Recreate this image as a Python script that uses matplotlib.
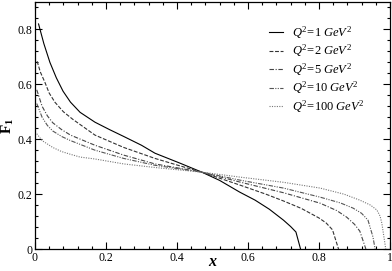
import matplotlib
matplotlib.use("Agg")
import matplotlib.pyplot as plt
from matplotlib.ticker import MultipleLocator

plt.rcParams['font.family'] = 'Liberation Serif'
plt.rcParams['mathtext.fontset'] = 'custom'
plt.rcParams['mathtext.rm'] = 'Liberation Serif'
plt.rcParams['mathtext.it'] = 'Liberation Serif:italic'
plt.rcParams['mathtext.bf'] = 'Liberation Serif:bold'

# F1(x), one curve per Q^2
x_q1 = [0.01, 0.025, 0.042, 0.06, 0.079, 0.1, 0.127, 0.169, 0.21, 0.25, 0.3, 0.338, 0.408, 0.47, 0.52, 0.577, 0.62, 0.66, 0.7, 0.72, 0.735, 0.748]
f_q1 = [0.82, 0.748, 0.68, 0.624, 0.575, 0.535, 0.498, 0.462, 0.435, 0.41, 0.378, 0.349, 0.313, 0.28, 0.25, 0.207, 0.178, 0.145, 0.105, 0.082, 0.062, 0.0]

x_q2 = [0.006, 0.015, 0.028, 0.04, 0.056, 0.08, 0.107, 0.169, 0.25, 0.338, 0.408, 0.47, 0.577, 0.65, 0.7, 0.75, 0.8, 0.82, 0.838, 0.855]
f_q2 = [0.684, 0.645, 0.607, 0.568, 0.535, 0.5, 0.472, 0.415, 0.37, 0.33, 0.303, 0.28, 0.233, 0.2, 0.175, 0.148, 0.113, 0.095, 0.07, 0.0]

x_q5 = [0.005, 0.02, 0.035, 0.05, 0.075, 0.1, 0.169, 0.25, 0.338, 0.47, 0.577, 0.7, 0.803, 0.85, 0.878, 0.9, 0.915, 0.932]
f_q5 = [0.58, 0.52, 0.485, 0.46, 0.435, 0.415, 0.378, 0.342, 0.31, 0.28, 0.244, 0.205, 0.167, 0.14, 0.116, 0.09, 0.065, 0.0]

x_q10 = [0.005, 0.02, 0.035, 0.05, 0.075, 0.1, 0.169, 0.25, 0.338, 0.47, 0.577, 0.7, 0.803, 0.86, 0.896, 0.92, 0.938, 0.952, 0.958]
f_q10 = [0.53, 0.48, 0.45, 0.43, 0.41, 0.395, 0.36, 0.33, 0.305, 0.28, 0.251, 0.222, 0.189, 0.168, 0.149, 0.13, 0.105, 0.044, 0.0]

x_q100 = [0.005, 0.02, 0.05, 0.075, 0.1, 0.127, 0.169, 0.25, 0.338, 0.47, 0.577, 0.7, 0.803, 0.87, 0.915, 0.945, 0.963, 0.972, 0.977, 0.988]
f_q100 = [0.42, 0.395, 0.37, 0.355, 0.345, 0.335, 0.328, 0.31, 0.297, 0.28, 0.262, 0.243, 0.222, 0.2, 0.178, 0.16, 0.142, 0.12, 0.094, 0.0]

labels = [r'$\mathit{Q^2\!=\!1\ GeV^2}$', r'$\mathit{Q^2\!=\!2\ GeV^2}$',
          r'$\mathit{Q^2\!=\!5\ GeV^2}$', r'$\mathit{Q^2\!=\!10\ GeV^2}$',
          r'$\mathit{Q^2\!=\!100\ GeV^2}$']

fig = plt.figure(figsize=(3.92, 2.71), dpi=100)
ax = fig.add_axes([35/392, 22/271, 355/392, 247/271])

ax.plot(x_q1, f_q1, color='black', lw=0.8, linestyle='-', label=labels[0])
ax.plot(x_q2, f_q2, color='#333333', lw=0.8, linestyle=(0, (3.5, 1.5)), label=labels[1])
ax.plot(x_q5, f_q5, color='#444444', lw=0.8, linestyle=(0, (4, 1.5, 1, 1.5)), label=labels[2])
ax.plot(x_q10, f_q10, color='#555555', lw=0.8, linestyle=(0, (4, 1.2, 1, 1.2, 1, 1.2)), label=labels[3])
ax.plot(x_q100, f_q100, color='#777777', lw=0.8, linestyle=(0, (1, 1.2)), label=labels[4])

ax.set_xlim(0, 1)
ax.set_ylim(0, 0.9)
ax.xaxis.set_minor_locator(MultipleLocator(0.04))
ax.yaxis.set_minor_locator(MultipleLocator(0.04))
ax.set_xticks([0, 0.2, 0.4, 0.6, 0.8, 1])
ax.set_xticklabels(['0', '0.2', '0.4', '0.6', '0.8', '1'])
ax.set_yticks([0, 0.2, 0.4, 0.6, 0.8])
ax.set_yticklabels(['0', '0.2', '0.4', '0.6', '0.8'])
ax.tick_params(which='both', direction='in', top=True, right=True, labelsize=8.5, width=0.8)
ax.tick_params(which='major', length=5, pad=2)
ax.tick_params(which='minor', length=2.5)
for s in ax.spines.values():
    s.set_linewidth(0.9)

ax.set_xlabel('x', fontsize=11.5, fontweight='bold', fontstyle='italic', va='bottom')
ax.xaxis.set_label_coords(0.5, -0.085)
ax.set_ylabel(r'$\mathbf{F_1}$', fontsize=11, va='center', ha='center')
ax.yaxis.set_label_coords(-0.075, 0.5)

ax.legend(loc='upper right', bbox_to_anchor=(0.96, 0.955), frameon=False, fontsize=9,
          handlelength=1.1, handletextpad=0.7, labelspacing=0.15)

fig.savefig('out.png', dpi=100)
